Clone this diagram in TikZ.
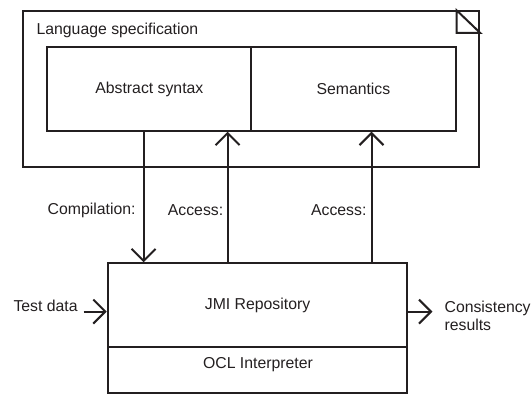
\documentclass[tikz,border=0pt]{standalone}
\usepackage{fontspec}
\setmainfont{Liberation Sans}
\usetikzlibrary{arrows.meta}
\definecolor{ink}{RGB}{35,31,32}

\begin{document}
\begin{tikzpicture}
  [x=1pt, y=-1pt, line width=2pt, draw=ink, text=ink,
   every node/.style={inner sep=0pt, font=\fontsize{15.8}{18.5}\selectfont},
   box/.style={draw, rectangle},
   flow/.style={-{Straight Barb[length=12pt,width=24pt]}}]

  \useasboundingbox (0,0) rectangle (531,395);

  % language specification frame
  \node[box, minimum width=456.2pt, minimum height=155.5pt] (spec) at (251.1,88.95) {};
  \draw ([xshift=-23.7pt]spec.north east) -- ++(0,22.7) -- ([yshift=-22.7pt]spec.north east) -- cycle;
  \node[anchor=west] (spectitle) at (35.6,30) {Language specification};
  \node[box, minimum width=203.9pt, minimum height=83.2pt] (abs) at (149.35,89.1) {Abstract syntax};
  \node[box, minimum width=204.2pt, minimum height=83.2pt] (sem) at (353.4,89.1) {Semantics};

  % repository
  \node[box, minimum width=299.7pt, minimum height=83.4pt] (jmi) at (257.55,305) {JMI Repository};
  \node[box, minimum width=299.7pt, minimum height=46.8pt] (ocl) at (257.55,370.1) {};
  \node (ocltext) at (258,365) {OCL Interpreter};

  % connectors
  \coordinate (xcomp) at (143.6,0);
  \coordinate (xacc) at (227.6,0);
  \coordinate (xsem) at (371.5,0);
  \draw[flow] (abs.south -| xcomp) -- (jmi.north -| xcomp);
  \draw[flow] (jmi.north -| xacc) -- (abs.south -| xacc);
  \draw[flow] (jmi.north -| xsem) -- (sem.south -| xsem);
  \node[anchor=east] (comp) at (136.5,210) {Compilation:};
  \node[anchor=east] (acc1) at (224.2,210) {Access:};
  \node[anchor=east] (acc2) at (367.4,210) {Access:};

  % input and output
  \coordinate (tin) at (83.6,311.6);
  \coordinate (tout) at (432.4,311.6);
  \draw[flow] (tin) -- (tin -| jmi.west);
  \draw[flow] (tout -| jmi.east) -- (tout);
  \node[anchor=west] (test) at (12.5,306) {Test data};
  \node[anchor=north west, align=left] (result) at (443.6,300) {Consistency\\results};
\end{tikzpicture}
\end{document}
